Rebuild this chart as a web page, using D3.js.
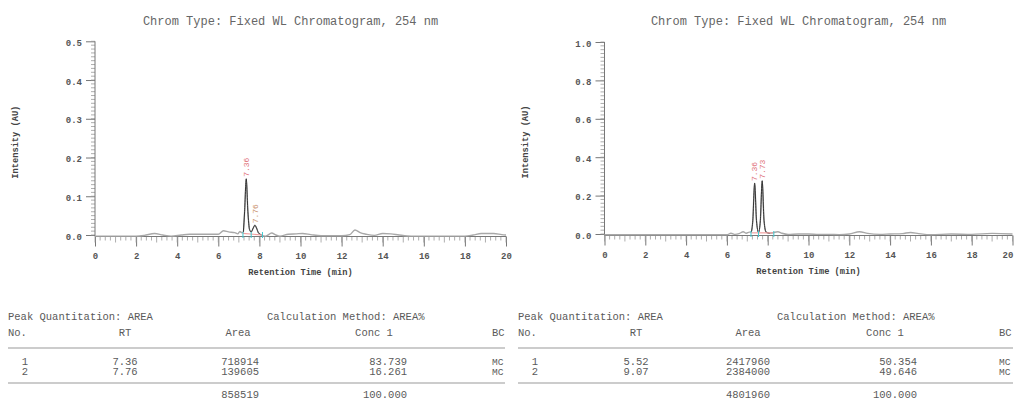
<!DOCTYPE html>
<html>
<head>
<meta charset="utf-8">
<script src="https://cdn.jsdelivr.net/npm/d3@7/dist/d3.min.js"></script>
<style>
  html, body { margin: 0; padding: 0; background: #fff; }
  svg { display: block; }
  text { font-family: "Liberation Mono", "Courier New", monospace; }
</style>
</head>
<body>
<svg id="chart" width="1014" height="401"></svg>
<script>
// ---------------- DATA ----------------
const chartTitle = "Chrom Type: Fixed WL Chromatogram, 254 nm";
const xAxisTitle = "Retention Time (min)";
const yAxisTitle = "Intensity (AU)";
const xTicks = [0, 2, 4, 6, 8, 10, 12, 14, 16, 18, 20];
const yTicksLeft = [0.0, 0.1, 0.2, 0.3, 0.4, 0.5];
const yTicksRight = [0.0, 0.2, 0.4, 0.6, 0.8, 1.0];

// left chromatogram trace (time, AU)
const timeLeft =   [0, 1, 2.0, 2.4, 2.9, 3.3, 3.7, 4.2, 4.6, 5.5, 6.0, 6.25, 6.5, 6.8, 6.95, 7.05, 7.15, 7.22, 7.28, 7.36, 7.44, 7.52, 7.6, 7.7, 7.78, 7.86, 7.95, 8.1, 8.3, 8.6, 8.8, 9.0, 9.4, 9.8, 10.1, 10.5, 11, 12.0, 12.4, 12.65, 12.9, 13.2, 13.6, 14.0, 14.4, 14.8, 15.4, 16, 18, 18.4, 18.8, 19.4, 19.8, 20];
const signalLeft = [-0.003, -0.003, -0.003, -0.001, 0.004, 0.0, -0.003, 0.0, 0.002, 0.002, 0.002, 0.011, 0.008, 0.006, 0.003, 0.009, 0.006, 0.008, 0.06, 0.145, 0.06, 0.014, 0.008, 0.018, 0.025, 0.018, 0.006, 0.0, -0.003, 0.005, 0.0, -0.003, 0.002, 0.003, 0.004, 0.001, -0.002, -0.002, 0.001, 0.013, 0.006, 0.002, -0.001, 0.004, 0.003, 0.0, -0.003, -0.003, -0.003, 0.0, 0.004, 0.004, 0.001, 0.0];
const peakRangeLeft = [7.2, 8.15];
const baselineLeftT = [7.2, 8.15];
const baselineLeftV = [0.004, 0.0];
const markersLeft = [7.2, 7.6, 8.15];
const peakLabelsLeft = ["7.36", "7.76"];
const peakTimesLeft = [7.36, 7.78];
const peakTopsLeft = [0.145, 0.025];

// right chromatogram trace (time, AU)
const timeRight =   [0, 6.0, 6.2, 6.4, 6.6, 6.8, 6.95, 7.1, 7.2, 7.27, 7.36, 7.45, 7.55, 7.64, 7.73, 7.82, 7.92, 8.1, 8.5, 8.7, 9.0, 9.5, 10.0, 10.5, 11, 11.5, 12.0, 12.5, 12.9, 13.5, 14, 14.6, 15.0, 15.4, 16, 17, 18, 19, 20];
const signalRight = [-0.004, -0.004, 0.004, -0.002, 0.002, 0.012, 0.004, 0.01, 0.01, 0.07, 0.265, 0.07, 0.008, 0.07, 0.277, 0.07, 0.01, 0.004, 0.012, 0.004, -0.002, 0.0, 0.0, -0.002, -0.002, -0.003, 0.0, 0.012, 0.003, -0.002, 0.0, 0.002, 0.008, 0.002, -0.004, 0.0, -0.002, 0.003, 0.0];
const peakRangeRight = [7.18, 8.3];
const baselineRightT = [7.18, 8.3];
const baselineRightV = [0.006, 0.006];
const markersRight = [7.18, 7.55, 8.3];
const peakLabelsRight = ["7.36", "7.73"];
const peakTimesRight = [7.36, 7.73];
const peakTopsRight = [0.265, 0.277];

// tables
const tableHeader = ["No.", "RT", "Area", "Conc 1", "BC"];
const quantLabel = "Peak Quantitation: AREA";
const calcLabel = "Calculation Method: AREA%";
const noLeft = ["1", "2"];
const rtLeft = ["7.36", "7.76"];
const areaLeft = ["718914", "139605"];
const concLeft = ["83.739", "16.261"];
const bcLeft = ["MC", "MC"];
const totalAreaLeft = "858519";
const totalConcLeft = "100.000";
const noRight = ["1", "2"];
const rtRight = ["5.52", "9.07"];
const areaRight = ["2417960", "2384000"];
const concRight = ["50.354", "49.646"];
const bcRight = ["MC", "MC"];
const totalAreaRight = "4801960";
const totalConcRight = "100.000";

// ---------------- DRAW ----------------
const svg = d3.select("#chart");

function drawChrom(cfg) {
  const g = svg.append("g");
  const x = d3.scaleLinear().domain([0, 20]).range([cfg.x0, cfg.x1]);
  const y = d3.scaleLinear().domain([0, cfg.ymax]).range([cfg.y0, cfg.ytop]);
  const axisY = y(0) + 1.5;

  // title
  g.append("text").attr("x", (cfg.x0 + cfg.x1) / 2 - 10).attr("y", 25)
    .attr("text-anchor", "middle").attr("font-size", 12).attr("fill", "#666")
    .text(chartTitle);

  // y axis
  const yAx = d3.axisLeft(y).tickValues(cfg.yTicks).tickSize(9).tickPadding(4)
    .tickFormat(d3.format(".1f"));
  const ya = g.append("g").attr("transform", `translate(${cfg.x0},0)`).call(yAx);
  ya.select(".domain").remove();
  ya.selectAll(".tick line").attr("stroke", "#777");
  ya.selectAll(".tick text").attr("font-size", 9).attr("font-weight", "bold")
    .attr("fill", "#555").attr("font-family", "Liberation Mono").attr("dy", "0.45em");
  const yMinor = d3.range(0, cfg.ymax + 1e-9, cfg.yMinorStep);
  g.append("g").selectAll("line").data(yMinor).join("line")
    .attr("x1", cfg.x0 - 4).attr("x2", cfg.x0)
    .attr("y1", d => y(d)).attr("y2", d => y(d))
    .attr("stroke", "#999").attr("stroke-width", 0.8);
  g.append("line").attr("x1", cfg.x0).attr("x2", cfg.x0)
    .attr("y1", y(cfg.ymax)).attr("y2", axisY).attr("stroke", "#777");

  // x axis
  const xAx = d3.axisBottom(x).tickValues(xTicks).tickSize(10).tickPadding(6);
  const xa = g.append("g").attr("transform", `translate(0,${axisY})`).call(xAx);
  xa.select(".domain").remove();
  xa.selectAll(".tick line").attr("stroke", "#777");
  xa.selectAll(".tick text").attr("font-size", 9).attr("font-weight", "bold")
    .attr("fill", "#555").attr("font-family", "Liberation Mono")
    .attr("dx", d => (d === 20 ? cfg.lastTickShift : 0));
  const xMinor = d3.range(0, 20.001, 0.25);
  g.append("g").selectAll("line").data(xMinor).join("line")
    .attr("x1", d => x(d)).attr("x2", d => x(d))
    .attr("y1", axisY).attr("y2", d => axisY + (Math.abs(d - Math.round(d)) < 1e-6 ? 6 : 4))
    .attr("stroke", "#999").attr("stroke-width", 0.8);
  g.append("line").attr("x1", cfg.x0).attr("x2", cfg.x1)
    .attr("y1", axisY).attr("y2", axisY).attr("stroke", "#777");

  // axis titles
  g.append("text").attr("x", (cfg.x0 + cfg.x1) / 2).attr("y", axisY + 38)
    .attr("text-anchor", "middle").attr("font-size", 8.7).attr("font-weight", "bold")
    .attr("fill", "#444").text(xAxisTitle);
  g.append("text").attr("transform", `translate(${cfg.x0 - 77},${(y(0) + y(cfg.ymax)) / 2 + 4}) rotate(-90)`)
    .attr("text-anchor", "middle").attr("font-size", 8.7).attr("font-weight", "bold")
    .attr("fill", "#444").text(yAxisTitle);

  // trace
  const pts = cfg.t.map((t, i) => [t, cfg.v[i]]);
  const line = d3.line().x(d => x(d[0])).y(d => y(d[1])).curve(d3.curveMonotoneX);
  g.append("path").datum(pts).attr("d", line)
    .attr("fill", "none").attr("stroke", "#a8a8a8").attr("stroke-width", 1.4);
  const peakPts = pts.filter(d => d[0] >= cfg.peakRange[0] && d[0] <= cfg.peakRange[1]);
  g.append("path").datum(peakPts).attr("d", line)
    .attr("fill", "none").attr("stroke", "#333").attr("stroke-width", 1);

  // baseline + markers
  g.append("line").attr("x1", x(cfg.blT[0])).attr("x2", x(cfg.blT[1]))
    .attr("y1", y(cfg.blV[0])).attr("y2", y(cfg.blV[1]))
    .attr("stroke", "#f2a0a0").attr("stroke-width", 1.2);
  g.append("g").selectAll("line").data(cfg.markers).join("line")
    .attr("x1", d => x(d)).attr("x2", d => x(d))
    .attr("y1", y(0) - 3).attr("y2", y(0) + 3)
    .attr("stroke", "#40c8d0").attr("stroke-width", 1);

  // peak labels
  cfg.labels.forEach((lab, i) => {
    const px = x(cfg.peakT[i]) + 2.8, py = y(cfg.peakV[i]) - 2;
    g.append("text").attr("transform", `translate(${px},${py}) rotate(-90)`)
      .attr("font-size", 8).attr("fill", cfg.labelColors[i]).text(lab);
  });
}

drawChrom({x0: 95, x1: 506, y0: 235, ytop: 41.3, ymax: 0.5, yTicks: yTicksLeft, yMinorStep: 0.01,
  t: timeLeft, v: signalLeft, peakRange: peakRangeLeft, blT: baselineLeftT, blV: baselineLeftV,
  markers: markersLeft, labels: peakLabelsLeft, peakT: peakTimesLeft, peakV: peakTopsLeft,
  labelColors: ["#e07078", "#c8906a"], lastTickShift: 0});
drawChrom({x0: 604.5, x1: 1012.5, y0: 234, ytop: 42, ymax: 1.0, yTicks: yTicksRight, yMinorStep: 0.02,
  t: timeRight, v: signalRight, peakRange: peakRangeRight, blT: baselineRightT, blV: baselineRightV,
  markers: markersRight, labels: peakLabelsRight, peakT: peakTimesRight, peakV: peakTopsRight,
  labelColors: ["#e07078", "#e07078"], lastTickShift: -5});

function drawTable(cfg) {
  const g = svg.append("g").attr("font-size", 10.5).attr("fill", "#5a5a5a");
  const c = cfg.cols;
  g.append("text").attr("x", c.left).attr("y", 320).text(quantLabel);
  g.append("text").attr("x", c.calc).attr("y", 320).text(calcLabel);
  // header
  const hx = [c.left, c.rt, c.area, c.conc, c.bc];
  const ha = ["start", "middle", "middle", "middle", "start"];
  tableHeader.forEach((h, i) => {
    g.append("text").attr("x", hx[i]).attr("y", 336).attr("text-anchor", ha[i]).text(h);
  });
  g.append("line").attr("x1", c.left).attr("x2", c.right).attr("y1", 348).attr("y2", 348)
    .attr("stroke", "#999").attr("stroke-width", 1);
  cfg.no.forEach((n, i) => {
    const yy = 365 + i * 10;
    g.append("text").attr("x", c.no).attr("y", yy).attr("text-anchor", "middle").text(n);
    g.append("text").attr("x", c.rt).attr("y", yy).attr("text-anchor", "middle").text(cfg.rt[i]);
    g.append("text").attr("x", c.areaR).attr("y", yy).attr("text-anchor", "end").text(cfg.area[i]);
    g.append("text").attr("x", c.concR).attr("y", yy).attr("text-anchor", "end").text(cfg.conc[i]);
    g.append("text").attr("x", c.bc).attr("y", yy).attr("font-size", 9.5).text(cfg.bc[i]);
  });
  g.append("line").attr("x1", c.left).attr("x2", c.right).attr("y1", 383).attr("y2", 383)
    .attr("stroke", "#999").attr("stroke-width", 1.2);
  g.append("text").attr("x", c.areaR).attr("y", 397.5).attr("text-anchor", "end").text(cfg.totalArea);
  g.append("text").attr("x", c.concR).attr("y", 397.5).attr("text-anchor", "end").text(cfg.totalConc);
}

drawTable({cols: {left: 8, calc: 267, no: 25, rt: 125, area: 238, areaR: 259, conc: 374, concR: 407, bc: 492, right: 505},
  no: noLeft, rt: rtLeft, area: areaLeft, conc: concLeft, bc: bcLeft, totalArea: totalAreaLeft, totalConc: totalConcLeft});
drawTable({cols: {left: 518, calc: 777, no: 535, rt: 636, area: 748, areaR: 770, conc: 885, concR: 917, bc: 999, right: 1013},
  no: noRight, rt: rtRight, area: areaRight, conc: concRight, bc: bcRight, totalArea: totalAreaRight, totalConc: totalConcRight});
</script>
</body>
</html>
